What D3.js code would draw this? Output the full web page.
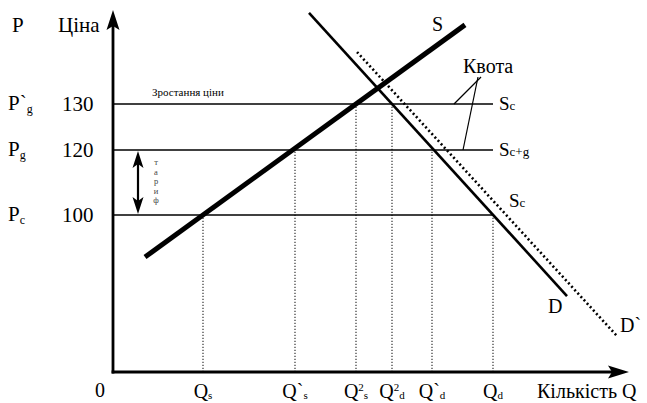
<!DOCTYPE html>
<html><head><meta charset="utf-8">
<script src="https://cdn.jsdelivr.net/npm/d3@7"></script>
<style>
html,body{margin:0;padding:0;background:#fff;}
svg{display:block;font-family:"Liberation Serif","Times New Roman",serif;}
</style></head>
<body>
<svg id="c" width="647" height="403"></svg>
<script>
// ---- data ----
const priceLevels = [
  {p:130, main:"P`", sub:"g", num:"130", note:"Зростання ціни", right:"S", rightSub:"c"},
  {p:120, main:"P",  sub:"g", num:"120", right:"S", rightSub:"c+g"},
  {p:100, main:"P",  sub:"c", num:"100"}
];
const levelEndQ = 76;
const qTicks = [
  {q:18,   base:"Q",  sup:"",  sub:"s", level:100},
  {q:36.4, base:"Q`", sup:"",  sub:"s", level:120},
  {q:48.6, base:"Q",  sup:"2", sub:"s", level:130},
  {q:55.8, base:"Q",  sup:"2", sub:"d", level:130},
  {q:63.8, base:"Q`", sup:"",  sub:"d", level:120},
  {q:76,   base:"Q",  sup:"",  sub:"d", level:100}
];
const supplyS = [{q:6.4, p:73.2}, {q:70.4, p:147.2}];
const demandD = [{q:39.2, p:149.8}, {q:90.8, p:48.4}];
const demandD2 = [{q:48.8, p:141.3}, {q:100.8, p:22.9}];
const tariffText = ["т","а","р","и","ф"];

// ---- scales ----
const svg = d3.select("#c");
const x = d3.scaleLinear().domain([0,100]).range([113,613]);
const y = d3.scaleLinear().domain([0,100,120,130,150]).range([372,215,150,104,12]);
const line = d3.line().x(d=>x(d.q)).y(d=>y(d.p));

// dotted verticals
svg.selectAll(".vdot").data(qTicks).join("line")
  .attr("x1",d=>x(d.q)).attr("x2",d=>x(d.q))
  .attr("y1",y(0)).attr("y2",d=>y(d.level))
  .attr("stroke","#333").attr("stroke-width",1.2).attr("stroke-dasharray","1.2,1.8");

// horizontal price lines
svg.selectAll(".hl").data(priceLevels).join("line")
  .attr("x1",x(0)).attr("x2",x(levelEndQ))
  .attr("y1",d=>y(d.p)).attr("y2",d=>y(d.p))
  .attr("stroke","#000").attr("stroke-width",1.6);

// D' dotted
svg.append("path").attr("d",line(demandD2)).attr("fill","none")
  .attr("stroke","#000").attr("stroke-width",2.6).attr("stroke-dasharray","2,2.6");
// D
svg.append("path").attr("d",line(demandD)).attr("fill","none")
  .attr("stroke","#000").attr("stroke-width",2.6);
// S
svg.append("path").attr("d",line(supplyS)).attr("fill","none")
  .attr("stroke","#000").attr("stroke-width",5).attr("stroke-linecap","butt");

// axes
svg.append("line").attr("x1",x(0)).attr("x2",x(0)).attr("y1",y(0)+1.5).attr("y2",26)
  .attr("stroke","#000").attr("stroke-width",2.8);
svg.append("line").attr("x1",x(0)-1.4).attr("x2",612).attr("y1",y(0)).attr("y2",y(0))
  .attr("stroke","#000").attr("stroke-width",2.8);
svg.append("path").attr("d",`M${x(0)},10 L${x(0)+6.5},30 L${x(0)},26 L${x(0)-6.5},30 Z`).attr("fill","#000");
svg.append("path").attr("d",`M629,${y(0)} L608,${y(0)-6.5} L612,${y(0)} L608,${y(0)+6.5} Z`).attr("fill","#000");

// tariff arrow
const ta = 138, t1 = y(120), t2 = y(100);
svg.append("line").attr("x1",ta).attr("x2",ta).attr("y1",t1+12).attr("y2",t2-12)
  .attr("stroke","#000").attr("stroke-width",2.2);
svg.append("path").attr("d",`M${ta},${t1+1} L${ta+5.5},${t1+18} L${ta},${t1+14} L${ta-5.5},${t1+18} Z`).attr("fill","#000");
svg.append("path").attr("d",`M${ta},${t2-1} L${ta+5.5},${t2-18} L${ta},${t2-14} L${ta-5.5},${t2-18} Z`).attr("fill","#000");
svg.selectAll(".tt").data(tariffText).join("text")
  .attr("x",156).attr("y",(d,i)=>t1+15+i*9.5).attr("text-anchor","middle")
  .attr("font-size",8.5).attr("fill","#444").text(d=>d);

// left labels
svg.append("text").attr("x",12).attr("y",32).attr("font-size",21).text("P");
svg.append("text").attr("x",58).attr("y",32).attr("font-size",21).text("Ціна");
priceLevels.forEach(d=>{
  const t = svg.append("text").attr("x",8).attr("y",y(d.p)+6).attr("font-size",21);
  t.append("tspan").text(d.main);
  t.append("tspan").attr("font-size",12).attr("dy",3).text(d.sub);
  svg.append("text").attr("x",62).attr("y",y(d.p)+7).attr("font-size",21).text(d.num);
  if(d.note){
    svg.append("text").attr("x",152).attr("y",y(d.p)-8).attr("font-size",11).text(d.note);
  }
  if(d.right){
    const r = svg.append("text").attr("x",x(levelEndQ)+6).attr("y",y(d.p)+6).attr("font-size",19);
    r.append("tspan").text(d.right);
    r.append("tspan").attr("font-size",13).text(d.rightSub);
  }
});

// curve labels
svg.append("text").attr("x",432).attr("y",31).attr("font-size",20).text("S");
svg.append("text").attr("x",548).attr("y",313).attr("font-size",20).text("D");
svg.append("text").attr("x",620).attr("y",332).attr("font-size",20).text("D`");
const sc = svg.append("text").attr("x",509).attr("y",207).attr("font-size",19);
sc.append("tspan").text("S"); sc.append("tspan").attr("font-size",13).text("c");

// Квота annotation
svg.append("text").attr("x",463).attr("y",73).attr("font-size",20).text("Квота");
svg.append("line").attr("x1",481).attr("y1",77).attr("x2",x(68.2)).attr("y2",y(130))
  .attr("stroke","#000").attr("stroke-width",1.2);
svg.append("line").attr("x1",478).attr("y1",77).attr("x2",x(70)).attr("y2",y(120))
  .attr("stroke","#000").attr("stroke-width",1.2);

// bottom labels
svg.append("text").attr("x",100).attr("y",397).attr("text-anchor","middle").attr("font-size",20).text("0");
qTicks.forEach(d=>{
  const t = svg.append("text").attr("x",x(d.q)).attr("y",398).attr("text-anchor","middle").attr("font-size",20);
  t.append("tspan").text(d.base);
  if(d.sup) t.append("tspan").attr("font-size",11).attr("dy",-7).text(d.sup);
  t.append("tspan").attr("font-size",11).attr("dy",d.sup?8:1).text(d.sub);
});
svg.append("text").attr("x",537).attr("y",398).attr("font-size",20).text("Кількість Q");
</script>
</body></html>
